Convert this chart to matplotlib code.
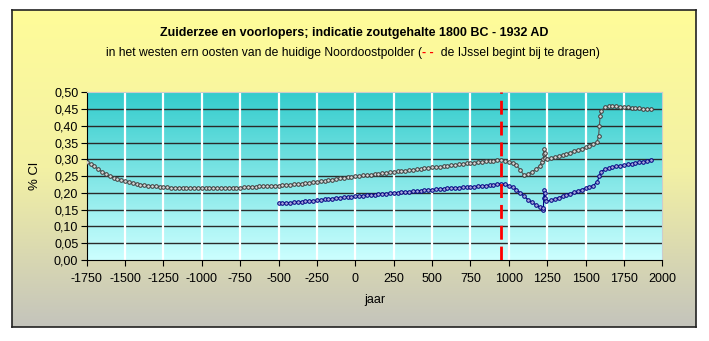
import matplotlib
matplotlib.use("Agg")
import matplotlib.pyplot as plt
import numpy as np
from matplotlib.colors import LinearSegmentedColormap

plt.rcParams["font.family"] = ["Liberation Sans", "DejaVu Sans"]
plt.rcParams["axes.unicode_minus"] = False

# grey series: western part
west_years = [-1750, -1725, -1700, -1675, -1650, -1625, -1600, -1575, -1550, -1525,
              -1500, -1475, -1450, -1425, -1400, -1375, -1350, -1325, -1300, -1275,
              -1250, -1225, -1200, -1175, -1150, -1125, -1100, -1075, -1050, -1025,
              -1000, -975, -950, -925, -900, -875, -850, -825, -800, -775,
              -750, -725, -700, -675, -650, -625, -600, -575, -550, -525,
              -500, -475, -450, -425, -400, -375, -350, -325, -300, -275,
              -250, -225, -200, -175, -150, -125, -100, -75, -50, -25,
              0, 25, 50, 75, 100, 125, 150, 175, 200, 225,
              250, 275, 300, 325, 350, 375, 400, 425, 450, 475,
              500, 525, 550, 575, 600, 625, 650, 675, 700, 725,
              750, 775, 800, 825, 850, 875, 900, 925, 950,
              975, 1000, 1025, 1050, 1075, 1100, 1125, 1150, 1175, 1200,
              1215, 1225, 1228, 1230, 1233, 1237, 1250, 1275, 1300, 1325,
              1350, 1375, 1400, 1425, 1450, 1475, 1500, 1525, 1550, 1575,
              1585, 1590, 1595, 1600, 1625, 1650, 1675, 1700, 1725, 1750,
              1775, 1800, 1825, 1850, 1875, 1900, 1925]
west_cl = [0.292, 0.286, 0.279, 0.271, 0.263, 0.256, 0.250, 0.245, 0.241, 0.238,
           0.235, 0.232, 0.229, 0.227, 0.225, 0.223, 0.222, 0.221, 0.220, 0.219,
           0.218, 0.217, 0.216, 0.216, 0.216, 0.216, 0.215, 0.215, 0.215, 0.215,
           0.215, 0.215, 0.215, 0.215, 0.215, 0.215, 0.215, 0.215, 0.216, 0.216,
           0.216, 0.217, 0.218, 0.219, 0.219, 0.220, 0.220, 0.221, 0.221, 0.222,
           0.222, 0.223, 0.224, 0.225, 0.226, 0.227, 0.228, 0.229, 0.230, 0.232,
           0.233, 0.235, 0.236, 0.238, 0.240, 0.241, 0.243, 0.245, 0.246, 0.247,
           0.249, 0.250, 0.252, 0.253, 0.254, 0.256, 0.257, 0.258, 0.260, 0.261,
           0.262, 0.264, 0.265, 0.266, 0.268, 0.269, 0.270, 0.272, 0.273, 0.274,
           0.276, 0.277, 0.278, 0.280, 0.281, 0.282, 0.284, 0.285, 0.286, 0.288,
           0.289, 0.290, 0.292, 0.293, 0.294, 0.295, 0.296, 0.297, 0.297,
           0.296, 0.293, 0.289, 0.283, 0.268, 0.252, 0.256, 0.263, 0.270, 0.280,
           0.292, 0.300, 0.315, 0.330, 0.318, 0.305, 0.302, 0.304, 0.307, 0.310,
           0.313, 0.316, 0.320, 0.324, 0.328, 0.332, 0.336, 0.340, 0.345, 0.352,
           0.370, 0.400, 0.430, 0.445, 0.455, 0.458, 0.459, 0.458, 0.457, 0.456,
           0.455, 0.454, 0.453, 0.452, 0.451, 0.450, 0.450]

# blue series: eastern part
east_years = [-500, -475, -450, -425, -400, -375, -350, -325, -300, -275,
              -250, -225, -200, -175, -150, -125, -100, -75, -50, -25,
              0, 25, 50, 75, 100, 125, 150, 175, 200, 225,
              250, 275, 300, 325, 350, 375, 400, 425, 450, 475,
              500, 525, 550, 575, 600, 625, 650, 675, 700, 725,
              750, 775, 800, 825, 850, 875, 900, 925, 950,
              975, 1000, 1025, 1050, 1075, 1100, 1125, 1150, 1175, 1200,
              1220, 1225, 1228, 1230, 1233, 1237, 1245, 1275, 1300, 1325,
              1350, 1375, 1400, 1425, 1450, 1475, 1500, 1525, 1550, 1575,
              1590, 1600, 1625, 1650, 1675, 1700, 1725, 1750, 1775, 1800,
              1825, 1850, 1875, 1900, 1925]
east_cl = [0.171, 0.170, 0.170, 0.171, 0.172, 0.173, 0.174, 0.175, 0.176, 0.177,
           0.178, 0.179, 0.181, 0.182, 0.183, 0.185, 0.186, 0.187, 0.188, 0.189,
           0.190, 0.191, 0.192, 0.193, 0.194, 0.195, 0.196, 0.197, 0.198, 0.199,
           0.200, 0.201, 0.202, 0.203, 0.204, 0.205, 0.206, 0.207, 0.208, 0.209,
           0.210, 0.211, 0.212, 0.213, 0.214, 0.214, 0.215, 0.216, 0.217, 0.217,
           0.218, 0.219, 0.220, 0.221, 0.222, 0.223, 0.225, 0.226, 0.228,
           0.226, 0.222, 0.217, 0.210, 0.200, 0.190, 0.180, 0.172, 0.165, 0.158,
           0.150, 0.155, 0.185, 0.210, 0.200, 0.185, 0.175, 0.178, 0.182, 0.186,
           0.190, 0.194, 0.198, 0.202, 0.206, 0.210, 0.214, 0.218, 0.222, 0.232,
           0.250, 0.263, 0.270, 0.274, 0.277, 0.279, 0.281, 0.283, 0.285, 0.287,
           0.289, 0.291, 0.293, 0.295, 0.297]

ijssel_year = 950
x_ticks = [-1750, -1500, -1250, -1000, -750, -500, -250, 0, 250, 500, 750,
           1000, 1250, 1500, 1750, 2000]
y_ticks = [0.00, 0.05, 0.10, 0.15, 0.20, 0.25, 0.30, 0.35, 0.40, 0.45, 0.50]

title = "Zuiderzee en voorlopers; indicatie zoutgehalte 1800 BC - 1932 AD"
sub_left = "in het westen ern oosten van de huidige Noordoostpolder ("
sub_dash = "- -"
sub_right = "  de IJssel begint bij te dragen)"

W, H = 709, 341
fig = plt.figure(figsize=(W / 100, H / 100), dpi=100)
fig.patch.set_facecolor("white")

# chart area with yellow-to-grey gradient
frame = fig.add_axes([12 / W, (H - 327) / H, 684 / W, 317 / H])
frame_cmap = LinearSegmentedColormap.from_list("frame", ["#fffc99", "#f3f1a4", "#c4c4bc"])
frame.imshow(np.linspace(0, 1, 256).reshape(-1, 1), cmap=frame_cmap, aspect="auto",
             extent=[0, 1, 0, 1])
frame.set_xticks([])
frame.set_yticks([])
for s in frame.spines.values():
    s.set_color("#222222")
    s.set_linewidth(1.2)

ax = fig.add_axes([86.7 / W, (H - 260) / H, 575.6 / W, 167.7 / H])
plot_cmap = LinearSegmentedColormap.from_list("plot", ["#33cccc", "#ccffff"])
ax.imshow(np.linspace(0, 1, 256).reshape(-1, 1), cmap=plot_cmap, aspect="auto",
          extent=[-1750, 2000, 0, 0.5], zorder=0)

for yt in y_ticks[1:-1]:
    ax.axhline(yt, color="#2a2a2a", lw=1.0, zorder=1)
for xt in x_ticks[1:-1]:
    ax.axvline(xt, color="white", lw=1.6, zorder=1)

ax.plot(west_years, west_cl, color="#555555", lw=0.8, marker="o", markersize=2.6,
        markerfacecolor="#d8d8d8", markeredgecolor="#3a3a3a", markeredgewidth=0.7, zorder=3)
ax.plot(east_years, east_cl, color="#000080", lw=0.8, marker="o", markersize=2.6,
        markerfacecolor="#aaaadd", markeredgecolor="#000080", markeredgewidth=0.7, zorder=3)

ax.axvline(ijssel_year, color="#ff0000", lw=2.0, dashes=(5, 2.5), zorder=4)

ax.set_xlim(-1750, 2000)
ax.set_ylim(0, 0.5)
ax.set_xticks(x_ticks)
ax.set_yticks(y_ticks)
ax.set_yticklabels([f"{v:.2f}".replace(".", ",") for v in y_ticks])
ax.tick_params(axis="both", labelsize=9, length=4, width=0.8, direction="out", color="black")
ax.tick_params(axis="x", pad=5)
ax.tick_params(axis="y", pad=2)
ax.spines["left"].set_color("black")
ax.spines["bottom"].set_color("black")
ax.spines["top"].set_color("#cccccc")
ax.spines["right"].set_color("#cccccc")
ax.set_xlabel("jaar", fontsize=9, labelpad=7)
ax.set_ylabel("% Cl", fontsize=9.5, labelpad=9)

fig.text(354 / W, 1 - 33 / H, title, fontsize=9, fontweight="bold", ha="center", va="center")

# subtitle with the red dashes inside it
renderer = fig.canvas.get_renderer()
parts = [(sub_left, "black", "normal"), (sub_dash, "red", "bold"), (sub_right, "black", "normal")]
texts = [fig.text(0, 1 - 53 / H, s, fontsize=8.7, color=c, fontweight=w, va="center")
         for s, c, w in parts]
widths = [t.get_window_extent(renderer).width for t in texts]
x0 = 353 - sum(widths) / 2
for t, w in zip(texts, widths):
    t.set_x(x0 / W)
    x0 += w

fig.savefig("out.png", dpi=100)
